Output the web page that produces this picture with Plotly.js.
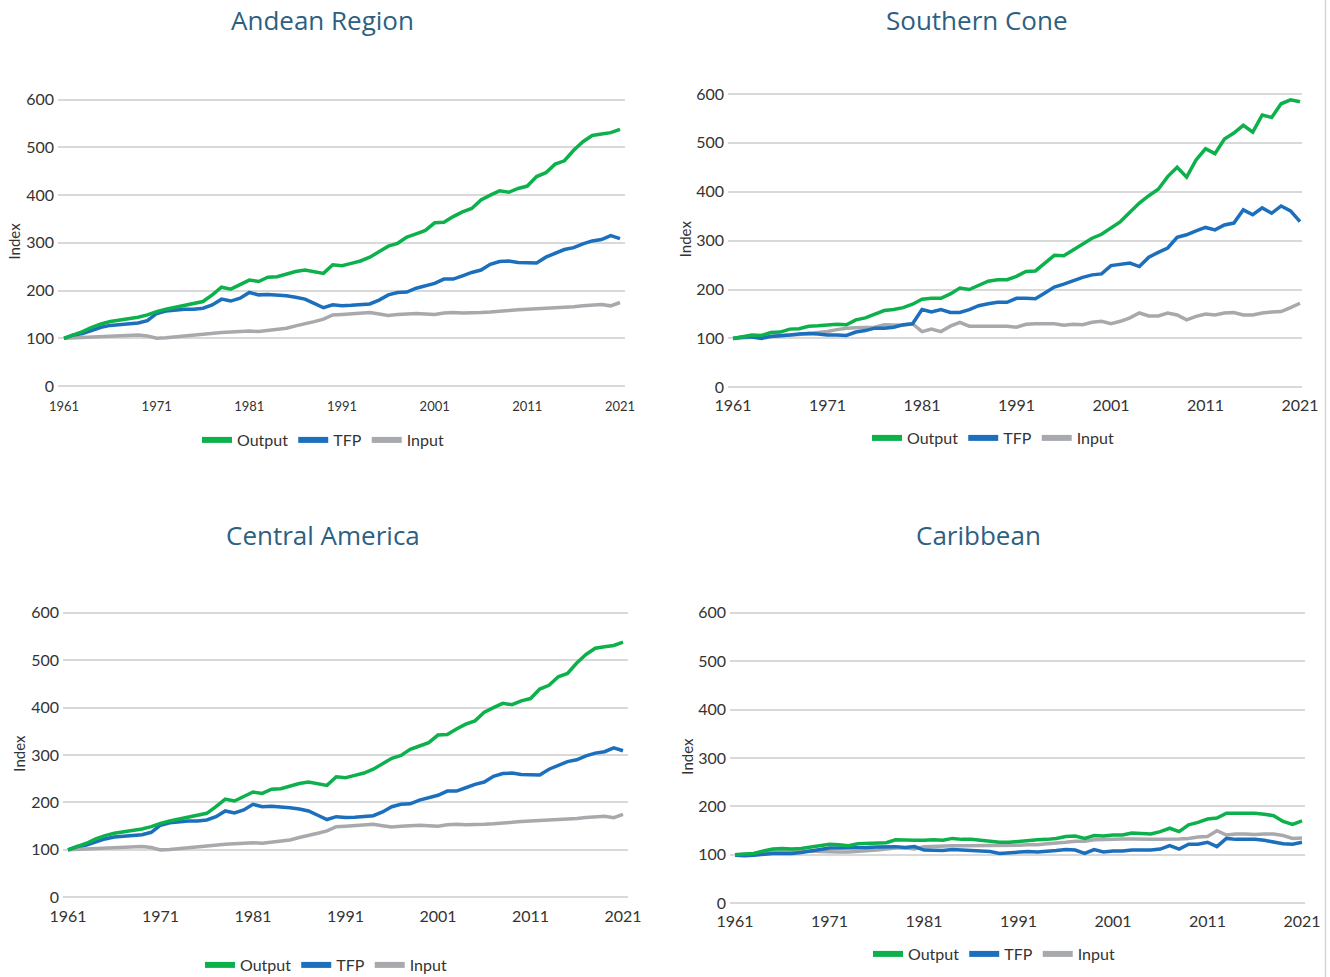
<!DOCTYPE html>
<html>
<head>
<meta charset="utf-8">
<script src="https://cdn.plot.ly/plotly-3.0.1.min.js"></script>
<style>html,body{margin:0;padding:0;background:#fff;}#chart{width:1330px;height:977px;}</style>
</head>
<body>
<div id="chart"></div>
<script>
const years = [];
for (let y = 1961; y <= 2021; y++) years.push(y);
const tickYears = [1961, 1971, 1981, 1991, 2001, 2011, 2021];
const tickLabels = ["1961", "1971", "1981", "1991", "2001", "2011", "2021"];
const yTicks = [0, 100, 200, 300, 400, 500, 600];

const andeanOutput = [100,107,114,123,130,135,138,142,144,149,156,161,165,168,173,177,191,207,203,212,222,219,228,229,235,240,243,240,236,254,252,257,262,270,282,293,299,312,319,326,342,343,355,365,372,390,400,409,406,414,419,439,447,465,472,494,512,525,528,531,538];
const andeanTFP = [100,107,110,117,123,127,129,131,132,137,152,157,159,161,161,163,170,182,178,184,196,191,192,191,189,186,182,173,164,170,168,169,171,172,180,191,196,197,205,210,215,224,224,231,238,243,255,261,262,259,258,258,270,278,286,290,298,304,307,315,309];
const andeanInput = [100,101,102,102,103,104,105,106,107,105,100,101,103,105,107,108,110,112,113,114,115,114,116,119,121,126,130,135,140,149,150,151,152,154,151,148,150,151,152,151,150,153,154,153,153,154,155,156,158,160,161,162,162,163,165,166,168,170,171,168,175];

const southernOutput = [100,104,107,106,112,113,119,120,125,126,127,129,128,138,142,150,157,159,163,170,180,182,182,191,203,200,208,217,220,220,227,237,238,254,270,269,281,292,305,313,327,339,358,377,392,405,431,450,430,465,488,478,508,520,536,522,557,552,580,588,584];
const southernTFP = [100,103,103,100,104,105,107,109,110,109,107,107,106,113,116,121,121,123,128,130,159,154,159,153,153,159,167,171,174,174,182,182,181,193,205,211,218,225,230,232,249,251,254,247,266,276,285,307,312,320,327,322,332,336,363,353,367,356,371,361,339];
const southernInput = [100,101,102,103,104,106,107,108,110,112,114,118,121,122,122,123,128,128,127,130,114,119,114,125,133,125,125,125,125,125,123,129,130,130,130,127,129,128,133,135,130,135,142,152,146,146,152,148,138,145,150,148,152,153,148,148,152,154,155,163,172];

const centralOutput = [100,107,114,123,130,135,138,142,144,149,156,161,165,168,173,177,191,207,203,212,222,219,228,229,235,240,243,240,236,254,252,257,262,270,282,293,299,312,319,326,342,343,355,365,372,390,400,409,406,414,419,439,447,465,472,494,512,525,528,531,538];
const centralTFP = [100,107,110,117,123,127,129,131,132,137,152,157,159,161,161,163,170,182,178,184,196,191,192,191,189,186,182,173,164,170,168,169,171,172,180,191,196,197,205,210,215,224,224,231,238,243,255,261,262,259,258,258,270,278,286,290,298,304,307,315,309];
const centralInput = [100,101,102,102,103,104,105,106,107,105,100,101,103,105,107,108,110,112,113,114,115,114,116,119,121,126,130,135,140,149,150,151,152,154,151,148,150,151,152,151,150,153,154,153,153,154,155,156,158,160,161,162,162,163,165,166,168,170,171,168,175];

const caribbeanOutput = [100,101,103,108,112,113,112,113,116,119,122,121,119,123,124,125,125,131,130,130,130,131,130,134,132,132,130,128,126,126,128,130,131,132,134,138,139,134,140,139,141,141,145,144,143,148,155,148,162,167,174,176,186,186,186,186,184,181,169,163,170];
const caribbeanTFP = [99,98,99,101,103,103,103,105,108,111,114,114,114,115,115,116,117,117,115,117,110,110,109,111,110,110,109,107,103,104,105,107,106,107,109,111,110,103,111,106,108,108,110,110,110,112,119,112,122,122,126,117,134,132,132,132,130,127,123,122,126];
const caribbeanInput = [100,101,103,106,107,108,108,107,108,107,106,106,106,107,108,110,112,114,114,112,117,118,118,119,119,119,119,119,120,120,120,121,121,123,124,126,128,128,131,132,133,133,133,132,132,132,132,133,134,137,138,150,141,143,143,142,143,143,140,134,135];

const seriesNames = ["Output", "TFP", "Input"];
const seriesColors = ["#0db14b", "#1b6fbd", "#a7a9ac"];

const W = 1330, H = 977;
// panel geometry in pixels
const panels = [
  {title: "Andean Region", data: [andeanOutput, andeanTFP, andeanInput], left: 58, right: 625, x0px: 64, x1px: 620, y0px: 386, y600px: 99.7, titleX: 322, titleY: 20, legX: 323, legY: 440, xtick: 13, xstand: 8, ystand: 1},
  {title: "Southern Cone", data: [southernOutput, southernTFP, southernInput], left: 728, right: 1302, x0px: 733, x1px: 1300, y0px: 387.3, y600px: 94, titleX: 977, titleY: 20, legX: 993, legY: 438, xtick: 16, xstand: 4, ystand: 0},
  {title: "Central America", data: [centralOutput, centralTFP, centralInput], left: 63, right: 628, x0px: 68, x1px: 623, y0px: 897.3, y600px: 612.7, titleX: 323, titleY: 535, legX: 326, legY: 965, xtick: 16, xstand: 5, ystand: 1},
  {title: "Caribbean", data: [caribbeanOutput, caribbeanTFP, caribbeanInput], left: 730, right: 1305, x0px: 735, x1px: 1302, y0px: 903.3, y600px: 612.7, titleX: 978, titleY: 535, legX: 994, legY: 954, xtick: 16, xstand: 4, ystand: 0}
];

const traces = [];
const layout = {
  width: W, height: H,
  margin: {l: 0, r: 0, t: 0, b: 0, autoexpand: false},
  paper_bgcolor: "#ffffff",
  plot_bgcolor: "#ffffff",
  font: {family: "Lato, 'Open Sans', sans-serif", color: "#333333"},
  annotations: [],
  shapes: [{type: "line", xref: "paper", yref: "paper", x0: 1325.5 / W, x1: 1325.5 / W, y0: 0, y1: 1, line: {color: "#d6d6d6", width: 1.5}}]
};

panels.forEach((p, i) => {
  const n = i + 1;
  const xa = n === 1 ? "x" : "x" + n;
  const ya = n === 1 ? "y" : "y" + n;
  const xKey = n === 1 ? "xaxis" : "xaxis" + n;
  const yKey = n === 1 ? "yaxis" : "yaxis" + n;
  const legKey = n === 1 ? "legend" : "legend" + n;
  const pxPerYear = (p.x1px - p.x0px) / 60;
  const xr0 = 1961 - (p.x0px - p.left) / pxPerYear;
  const xr1 = 2021 + (p.right - p.x1px) / pxPerYear;
  const pxPerUnit = (p.y0px - p.y600px) / 600;
  const yLo = -6, yHi = 612;
  const bottomPx = p.y0px - yLo * pxPerUnit;
  const topPx = p.y0px - yHi * pxPerUnit;

  layout[xKey] = {
    domain: [p.left / W, p.right / W],
    range: [xr0, xr1],
    anchor: ya,
    tickmode: "array", tickvals: tickYears, ticktext: tickLabels,
    showgrid: false, zeroline: false, showline: false, ticks: "",
    ticklabelstandoff: p.xstand,
    tickfont: {size: p.xtick, color: "#333333", family: "Lato, sans-serif"},
    fixedrange: true
  };
  layout[yKey] = {
    domain: [1 - bottomPx / H, 1 - topPx / H],
    range: [yLo, yHi],
    anchor: xa,
    tickmode: "array", tickvals: yTicks,
    showgrid: true, gridcolor: "#d9d9d9", gridwidth: 2,
    zeroline: false, showline: false, ticks: "",
    ticklabelstandoff: 3,
    tickfont: {size: 16, color: "#333333", family: "Lato, sans-serif"},
    title: {text: "Index", font: {size: 15, color: "#333333", family: "Lato, sans-serif"}, standoff: p.ystand},
    fixedrange: true
  };
  layout[legKey] = {
    orientation: "h",
    x: p.legX / W, y: 1 - p.legY / H,
    xanchor: "center", yanchor: "middle",
    font: {size: 16, color: "#333333", family: "Lato, sans-serif"},
    itemwidth: 30,
    tracegroupgap: 0,
    bgcolor: "rgba(0,0,0,0)"
  };
  layout.annotations.push({
    text: p.title, xref: "paper", yref: "paper",
    x: p.titleX / W, y: 1 - p.titleY / H,
    xanchor: "center", yanchor: "middle", showarrow: false,
    font: {size: 26, color: "#2d5f82", family: "'Open Sans', Lato, sans-serif"}
  });

  // draw order: Input, TFP, Output (output on top)
  [2, 1, 0].forEach(k => {
    traces.push({
      type: "scatter", mode: "lines",
      x: years, y: p.data[k],
      xaxis: xa, yaxis: ya,
      name: seriesNames[k],
      line: {color: seriesColors[k], width: 3.5},
      showlegend: false,
      hoverinfo: "x+y+name"
    });
  });
  [0, 1, 2].forEach(k => {
    traces.push({
      type: "scatter", mode: "lines",
      x: [null], y: [null],
      xaxis: xa, yaxis: ya,
      name: seriesNames[k],
      line: {color: seriesColors[k], width: 6},
      legend: legKey,
      showlegend: true
    });
  });
});

Plotly.newPlot("chart", traces, layout, {staticPlot: true, displayModeBar: false});
</script>
</body>
</html>
